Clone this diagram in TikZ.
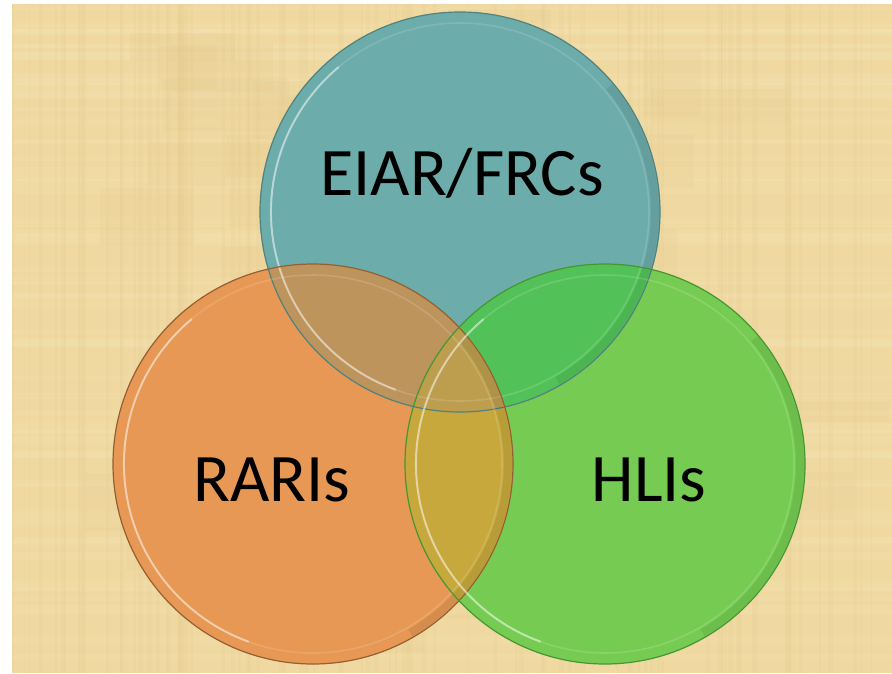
\documentclass[tikz,border=0pt]{standalone}
\usepackage{fontspec}
\setmainfont{Carlito}
\begin{document}
\begin{tikzpicture}[x=1pt,y=-1pt,
  setlabel/.style={font=\fontsize{68}{82}\selectfont, text=black, inner sep=0pt},
  rim/.style={draw=#1, line width=1.2pt},
  bevel/.style={draw=white, draw opacity=0.14, line width=1.6pt},
  gloss/.style={draw=white, draw opacity=0.45, line width=2pt, line cap=round}]
  \definecolor{parch}{RGB}{239,217,161}
  \definecolor{parchlight}{RGB}{246,230,185}
  \definecolor{parchdark}{RGB}{224,196,130}
  \definecolor{cblue}{RGB}{108,172,170}
  \definecolor{corange}{RGB}{230,152,84}
  \definecolor{cgreen}{RGB}{118,204,82}
  \definecolor{cbo}{RGB}{188,148,92}
  \definecolor{cbg}{RGB}{82,194,88}
  \definecolor{cog}{RGB}{198,168,60}
  \definecolor{cbog}{RGB}{188,158,78}
  \definecolor{rblue}{RGB}{80,130,128}
  \definecolor{rorange}{RGB}{150,95,50}
  \definecolor{rgreen}{RGB}{70,150,50}
  \useasboundingbox (0,0) rectangle (892,673);
  % parchment backdrop with a woven texture
  \fill[white] (0,0) rectangle (892,673);
  \fill[parch] (12,4) rectangle (892,673);
  \pgfmathsetseed{7}
  \foreach \i in {1,...,70}{
    \pgfmathsetmacro{\yy}{4+rnd*660}
    \pgfmathsetmacro{\hh}{2+rnd*6}
    \fill[parchlight, opacity=0.2] (12,\yy) rectangle (892,\yy+\hh);
  }
  \foreach \i in {1,...,90}{
    \pgfmathsetmacro{\xx}{12+rnd*870}
    \pgfmathsetmacro{\ww}{1+rnd*4}
    \fill[parchdark, opacity=0.12] (\xx,4) rectangle (\xx+\ww,673);
  }
  \foreach \i in {1,...,40}{
    \pgfmathsetmacro{\xx}{12+rnd*800}
    \pgfmathsetmacro{\yy}{4+rnd*600}
    \fill[parchdark, opacity=0.12] (\xx,\yy) rectangle (\xx+40+rnd*120,\yy+20+rnd*60);
  }
  % circle centres
  \coordinate (cB) at (460,212);
  \coordinate (cO) at (313,464);
  \coordinate (cG) at (605,464);
  \def\rr{200}
  % plain fills
  \fill[cblue] (cB) circle (\rr);
  \fill[corange] (cO) circle (\rr);
  \fill[cgreen] (cG) circle (\rr);
  % overlaps
  \begin{scope}
    \clip (cB) circle (\rr);
    \fill[cbo] (cO) circle (\rr);
    \fill[cbg] (cG) circle (\rr);
  \end{scope}
  \begin{scope}
    \clip (cO) circle (\rr);
    \fill[cog] (cG) circle (\rr);
    \clip (cB) circle (\rr);
    \fill[cbog] (cG) circle (\rr);
  \end{scope}
  % bevelled rims
  \foreach \c/\r in {cB/rblue, cO/rorange, cG/rgreen}{
    \draw[bevel] (\c) circle (\rr-11);
    \draw[gloss] (\c) ++(110:\rr-11) arc (110:230:\rr-11);
    \draw[draw=black, draw opacity=0.07, line width=8pt] (\c) ++(-40:\rr-5) arc (-40:60:\rr-5);
    \draw[rim=\r] (\c) circle (\rr);
  }
  % labels
  \node[setlabel] (tB) at (462,173) {EIAR/FRCs};
  \node[setlabel] (tO) at (272,480) {RARIs};
  \node[setlabel] (tG) at (649,480) {HLIs};
\end{tikzpicture}
\end{document}
